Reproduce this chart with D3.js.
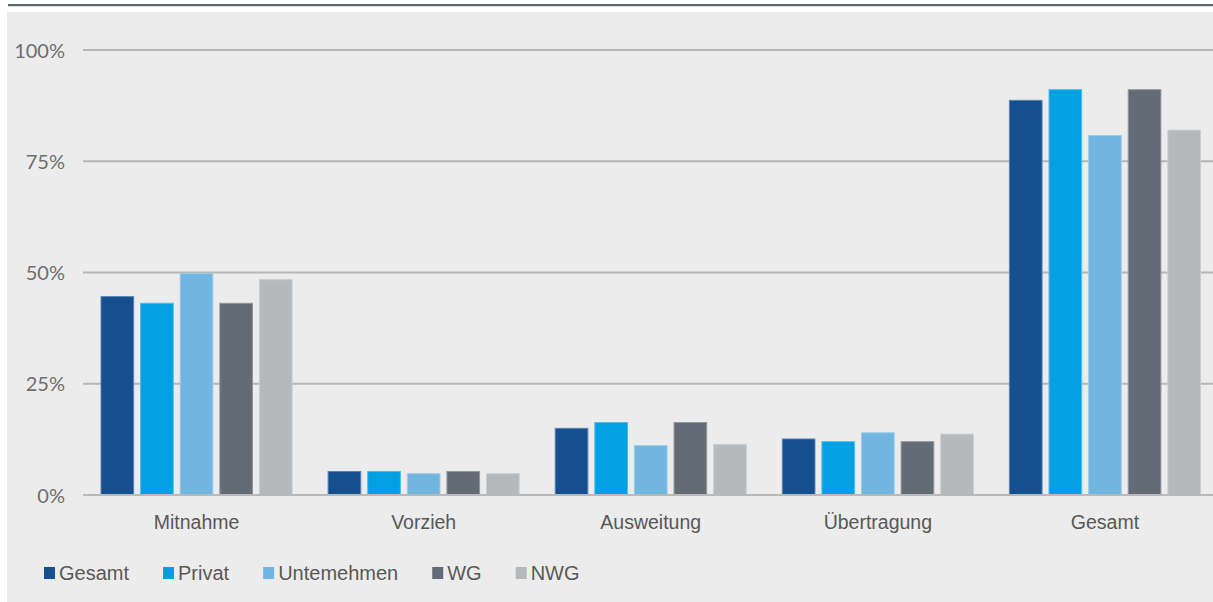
<!DOCTYPE html>
<html>
<head>
<meta charset="utf-8">
<script src="https://cdn.jsdelivr.net/npm/d3@7"></script>
<style>
  html, body { margin: 0; padding: 0; background: #ffffff; }
  svg { display: block; }
</style>
</head>
<body>
<svg id="chart" width="1213" height="602"></svg>
<script>
// Effect categories along the x axis
const categories = ["Mitnahme", "Vorzieh", "Ausweitung", "Übertragung", "Gesamt"];
// Series (legend order)
const seriesNames = ["Gesamt", "Privat", "Untemehmen", "WG", "NWG"];
const seriesColors = ["#154f8f", "#00a0e3", "#71b6e0", "#636b74", "#b5b9bc"];
// Shares per series, one value per category (fraction of 1)
const gesamt     = [0.447, 0.054, 0.151, 0.127, 0.888];
const privat     = [0.432, 0.054, 0.164, 0.121, 0.912];
const unternehmen= [0.499, 0.049, 0.112, 0.141, 0.809];
const wg         = [0.432, 0.054, 0.164, 0.121, 0.912];
const nwg        = [0.485, 0.049, 0.115, 0.138, 0.821];
const seriesValues = [gesamt, privat, unternehmen, wg, nwg];
// Y-axis ticks
const yTicks = [0, 0.25, 0.5, 0.75, 1.0];
const yTickLabels = ["0%", "25%", "50%", "75%", "100%"];

const svg = d3.select("#chart");
const W = 1213, H = 602;

// Panel background and top rule
svg.append("rect").attr("x", 7).attr("y", 12).attr("width", W - 7).attr("height", H - 12)
  .attr("fill", "#ececec");
svg.append("rect").attr("x", 8).attr("y", 4).attr("width", W - 8).attr("height", 2.2)
  .attr("fill", "#5f666e");

const plotLeft = 83, plotRight = 1218.5, plotTop = 50, plotBottom = 495;

const y = d3.scaleLinear().domain([0, 1]).range([plotBottom, plotTop]);
const x0 = d3.scaleBand().domain(categories).range([plotLeft, plotRight]).padding(0);
const groupPad = 17.5;
const x1 = d3.scaleBand().domain(seriesNames)
  .range([groupPad, x0.bandwidth() - groupPad])
  .paddingInner(0.15).paddingOuter(0);

// Gridlines
const grid = svg.append("g");
grid.selectAll("line").data(yTicks.filter(t => t > 0)).enter().append("line")
  .attr("x1", plotLeft).attr("x2", W)
  .attr("y1", d => y(d)).attr("y2", d => y(d))
  .attr("stroke", "#b6b6b6").attr("stroke-width", 2);

// Y axis labels via d3.axisLeft
const yAxis = d3.axisLeft(y).tickValues(yTicks)
  .tickFormat((d, i) => yTickLabels[i]).tickSize(0).tickPadding(0);
const yg = svg.append("g").attr("transform", "translate(65,0)").call(yAxis);
yg.select(".domain").remove();
yg.selectAll("text")
  .attr("font-family", "Lato, 'DejaVu Sans', sans-serif")
  .attr("font-size", 20).attr("fill", "#6e6e6e").attr("dy", "0.36em");

// Bars
const groups = svg.append("g").selectAll("g").data(categories).enter().append("g")
  .attr("transform", d => `translate(${x0(d)},0)`);
groups.selectAll("rect")
  .data((c, ci) => seriesNames.map((s, si) => ({ s, si, v: seriesValues[si][ci] })))
  .enter().append("rect")
  .attr("x", d => x1(d.s) + 0.5)
  .attr("y", d => y(d.v) + 0.5)
  .attr("width", x1.bandwidth() - 1)
  .attr("height", d => y(0) - y(d.v) - 0.5)
  .attr("fill", d => seriesColors[d.si])
  .attr("stroke", d => d3.interpolateRgb(seriesColors[d.si], "#ffffff")(0.3))
  .attr("stroke-width", 1);

// Baseline (x axis)
const xAxis = d3.axisBottom(x0).tickSize(0).tickPadding(0);
const xg = svg.append("g").attr("transform", `translate(0,${plotBottom})`).call(xAxis);
xg.select(".domain").remove();
xg.append("line").attr("x1", plotLeft).attr("x2", W).attr("y1", 0).attr("y2", 0)
  .attr("stroke", "#b9b9b9").attr("stroke-width", 2.2);
xg.selectAll(".tick text")
  .attr("font-family", "'Liberation Sans', Arial, sans-serif")
  .attr("font-size", 19.5).attr("fill", "#585858").attr("dy", 0).attr("y", 34);

// Legend
const legend = svg.append("g").attr("transform", "translate(44,567)");
let lx = 0;
seriesNames.forEach((name, i) => {
  const g = legend.append("g").attr("transform", `translate(${lx},0)`);
  g.append("rect").attr("x", 0).attr("y", 0).attr("width", 11).attr("height", 12)
    .attr("fill", seriesColors[i]);
  const t = g.append("text").attr("x", 15).attr("y", 13)
    .attr("font-family", "'Liberation Sans', Arial, sans-serif")
    .attr("font-size", 20).attr("fill", "#585858").text(name);
  lx += 15 + t.node().getComputedTextLength() + 34;
});
</script>
</body>
</html>
